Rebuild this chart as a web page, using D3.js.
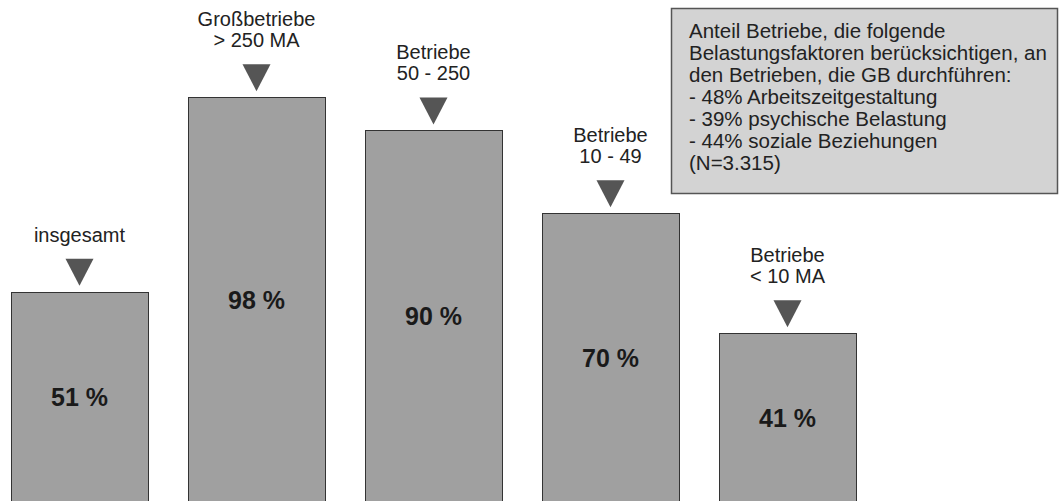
<!DOCTYPE html>
<html>
<head>
<meta charset="utf-8">
<script src="https://cdn.jsdelivr.net/npm/d3@7"></script>
<style>
  body { margin: 0; background: #fff; }
  svg { display: block; font-family: "Liberation Sans", Arial, sans-serif; }
</style>
</head>
<body>
<svg id="svg"></svg>
<script>
  let groupLines = [
    ['insgesamt'],
    ['Großbetriebe', '> 250 MA'],
    ['Betriebe', '50 - 250'],
    ['Betriebe', '10 - 49'],
    ['Betriebe', '< 10 MA']
  ];
  let shares = [51, 98, 90, 70, 41];
  let noteLines = [
    'Anteil Betriebe, die folgende',
    'Belastungsfaktoren berücksichtigen, an',
    'den Betrieben, die GB durchführen:',
    '- 48% Arbeitszeitgestaltung',
    '- 39% psychische Belastung',
    '- 44% soziale Beziehungen',
    '(N=3.315)'
  ];

  let config = {
    width: 1060,
    height: 501,
    colorBar: '#a0a0a0',
    colorEdge: '#333333',
    colorArrow: '#555555',
    colorNote: '#d3d3d3'
  };

  let svg = d3.select('#svg')
    .attr('width', config.width)
    .attr('height', config.height);

  // step 177, bar width 137
  let x = d3.scaleBand()
    .domain(d3.range(shares.length))
    .range([11, 11 + 177 * shares.length - 40])
    .paddingInner(40 / 177)
    .paddingOuter(0);

  let y = d3.scaleLinear()
    .domain([0, 100])
    .range([503, 89]);

  let bars = svg.selectAll('g.bar')
    .data(shares)
    .enter().append('g')
    .attr('class', 'bar');

  bars.append('rect')
    .attr('x', (d, i) => Math.round(x(i)) + 0.5)
    .attr('y', d => Math.round(y(d)) + 0.5)
    .attr('width', Math.round(x.bandwidth()))
    .attr('height', d => y(0) - y(d) + 10)
    .style('fill', config.colorBar)
    .style('stroke', config.colorEdge)
    .style('stroke-width', 1);

  bars.append('text')
    .attr('x', (d, i) => x(i) + x.bandwidth() / 2)
    .attr('y', d => (y(d) + y(0)) / 2)
    .attr('dy', '0.35em')
    .attr('text-anchor', 'middle')
    .style('font-size', '25px')
    .style('font-weight', 'bold')
    .style('fill', '#1a1a1a')
    .text(d => d + ' %');

  // arrow above each bar
  bars.append('path')
    .attr('d', (d, i) => {
      let cx = x(i) + x.bandwidth() / 2;
      let top = y(d) - 33;
      return 'M' + (cx - 14) + ',' + top + 'L' + (cx + 14) + ',' + top + 'L' + cx + ',' + (top + 27) + 'Z';
    })
    .style('fill', config.colorArrow);

  bars.each(function(d, i) {
    let lines = groupLines[i];
    let g = d3.select(this);
    lines.forEach((line, k) => {
      g.append('text')
        .attr('x', x(i) + x.bandwidth() / 2)
        .attr('y', y(d) - 50 - 21 * (lines.length - 1 - k))
        .attr('text-anchor', 'middle')
        .style('font-size', '20px')
        .style('fill', '#222')
        .text(line);
    });
  });

  // note box
  let note = svg.append('g');
  note.append('rect')
    .attr('x', 671.5)
    .attr('y', 8.5)
    .attr('width', 386)
    .attr('height', 185)
    .style('fill', config.colorNote)
    .style('stroke', '#555')
    .style('stroke-width', 1.5);

  note.selectAll('text')
    .data(noteLines)
    .enter().append('text')
    .attr('x', 689)
    .attr('y', (d, i) => 38 + 22 * i)
    .style('font-size', '20.5px')
    .style('fill', '#222')
    .text(d => d);
</script>
</body>
</html>
